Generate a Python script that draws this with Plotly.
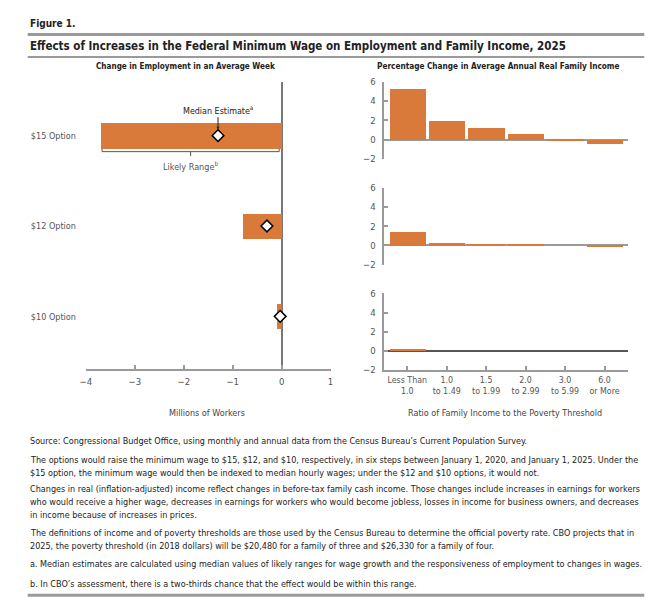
import plotly.graph_objects as go

# ---------------- data ----------------
options = ["$15 Option", "$12 Option", "$10 Option"]
range_low = [-3.7, -0.8, -0.1]      # millions of workers (likely range lower end)
range_high = [0.0, 0.0, 0.0]
median_est = [-1.3, -0.3, -0.03]

income_groups = ["Less Than<br>1.0", "1.0<br>to 1.49", "1.5<br>to 1.99",
                 "2.0<br>to 2.99", "3.0<br>to 5.99", "6.0<br>or More"]
income_15 = [5.3, 1.9, 1.2, 0.6, -0.1, -0.4]
income_12 = [1.4, 0.3, 0.2, 0.1, 0.0, -0.1]
income_10 = [0.2, 0.0, 0.0, 0.0, 0.0, 0.0]

x_ticks_left = [-4, -3, -2, -1, 0, 1]
y_ticks_right = [-2, 0, 2, 4, 6]

# ---------------- style ----------------
W, H = 667, 616
FONT = "Liberation Sans Narrow, DejaVu Sans Condensed, Arial Narrow, sans-serif"
ORANGE = "#D9793A"
GRAY = "#9a9a9a"
TXT = "#333333"

def px_x(p):
    return p / W

def px_y(p):
    return 1 - p / H

fig = go.Figure()

# left panel
ypos = [2, 1, 0]
fig.add_trace(go.Bar(
    y=ypos, x=[lo - hi for lo, hi in zip(range_low, range_high)], base=range_high,
    orientation="h", width=0.28, marker=dict(color=ORANGE, line=dict(width=0)),
    xaxis="x", yaxis="y", showlegend=False, hoverinfo="skip"))
fig.add_trace(go.Scatter(
    y=ypos, x=median_est, mode="markers",
    marker=dict(symbol="diamond", size=9, color="white", line=dict(color="black", width=1.5)),
    xaxis="x", yaxis="y", showlegend=False, hoverinfo="skip"))

# right panels
for i, vals in enumerate([income_15, income_12, income_10]):
    ax = str(i + 2)
    fig.add_trace(go.Bar(
        x=list(range(len(income_groups))), y=vals, width=0.92,
        marker=dict(color=ORANGE, line=dict(width=0)),
        xaxis="x" + ax, yaxis="y" + ax, showlegend=False, hoverinfo="skip"))

layout = dict(
    width=W, height=H, margin=dict(l=0, r=0, t=0, b=0),
    paper_bgcolor="white", plot_bgcolor="rgba(0,0,0,0)",
    font=dict(family=FONT, size=9, color=TXT),
    bargap=0,
)

layout["xaxis"] = dict(
    domain=[px_x(81), px_x(329)], range=[-4, 1],
    tickvals=x_ticks_left, ticks="inside", ticklen=4, tickcolor=GRAY, tickwidth=1.5,
    showline=True, linecolor=GRAY, linewidth=2, showgrid=False,
    zeroline=True, zerolinecolor="#777777", zerolinewidth=1.5,
    anchor="y", tickfont=dict(size=9.5, color="#555"), ticklabelstandoff=2,
)
layout["yaxis"] = dict(
    domain=[px_y(370), px_y(77)], range=[-0.587, 2.598],
    tickvals=ypos, ticktext=options, ticks="", showgrid=False, zeroline=False,
    showline=False, ticklabelstandoff=9, tickfont=dict(size=9, color="#555"),
    anchor="x",
)

doms = [(77.3, 155.7), (185, 263.4), (292.7, 370.7)]
for i, (t, b) in enumerate(doms):
    ax = str(i + 2)
    last = i == 2
    layout["xaxis" + ax] = dict(
        domain=[px_x(382.7), px_x(630.7)], range=[-0.6, 5.6],
        anchor="y" + ax, showgrid=False, zeroline=False,
        showline=last, linecolor=GRAY, linewidth=2,
        tickvals=list(range(len(income_groups))),
        ticktext=income_groups if last else None,
        showticklabels=last, ticks="inside" if last else "",
        ticklen=4, tickcolor=GRAY, tickwidth=1.5, tickangle=0,
        tickfont=dict(size=8.8, color="#555"),
    )
    layout["yaxis" + ax] = dict(
        domain=[px_y(b), px_y(t)], range=[-2, 6], anchor="x" + ax,
        tickvals=y_ticks_right, ticks="inside", ticklen=4, tickcolor=GRAY, tickwidth=1.5,
        showline=True, linecolor=GRAY, linewidth=2, showgrid=False,
        zeroline=True, zerolinecolor="#555555" if last else GRAY, zerolinewidth=1.5,
        tickfont=dict(size=9.5, color="#555"), ticklabelstandoff=4,
    )

fig.update_layout(**layout)

# ---------------- shapes ----------------
shapes = [
    dict(type="line", xref="paper", yref="paper", x0=px_x(22), x1=px_x(647),
         y0=px_y(29), y1=px_y(29), line=dict(color=GRAY, width=3)),
    dict(type="line", xref="paper", yref="paper", x0=px_x(22), x1=px_x(647),
         y0=px_y(52), y1=px_y(52), line=dict(color=GRAY, width=2)),
    dict(type="line", xref="paper", yref="paper", x0=px_x(22), x1=px_x(647),
         y0=px_y(600), y1=px_y(600), line=dict(color=GRAY, width=3)),
]
# likely range bracket under $15 bar
b_lo, b_hi = range_low[0] + 0.03, range_high[0] - 0.05
b_y = 1.823
mid = (b_lo + b_hi) / 2
bracket_col = "#555555"
shapes += [
    dict(type="line", xref="x", yref="y", x0=b_lo, x1=b_hi, y0=b_y, y1=b_y,
         line=dict(color=bracket_col, width=1)),
    dict(type="line", xref="x", yref="y", x0=b_lo, x1=b_lo, y0=b_y, y1=b_y + 0.03,
         line=dict(color=bracket_col, width=1)),
    dict(type="line", xref="x", yref="y", x0=b_hi, x1=b_hi, y0=b_y, y1=b_y + 0.03,
         line=dict(color=bracket_col, width=1)),
    dict(type="line", xref="x", yref="y", x0=mid, x1=mid, y0=b_y, y1=b_y - 0.05,
         line=dict(color=bracket_col, width=1)),
]
fig.update_layout(shapes=shapes)

# ---------------- annotations ----------------
ann = []
def txt(x, y, s, size=10, bold=False, xanchor="left", color=TXT):
    ann.append(dict(xref="paper", yref="paper", x=px_x(x), y=px_y(y), text=("<b>%s</b>" % s) if bold else s,
                    showarrow=False, xanchor=xanchor, yanchor="middle",
                    font=dict(size=size, color=color, family=FONT)))

txt(22, 18, "Figure 1.", size=10, bold=True, color="#222")
txt(22, 41, "Effects of Increases in the Federal Minimum Wage on Employment and Family Income, 2025",
    size=11.5, bold=True, color="#222")
txt(182, 61, "Change in Employment in an Average Week", size=8.1, bold=True, xanchor="center", color="#222")
txt(499, 61, "Percentage Change in Average Annual Real Family Income", size=8.2, bold=True,
    xanchor="center", color="#222")
txt(204, 414, "Millions of Workers", size=9, xanchor="center", color="#444")
txt(506, 414, "Ratio of Family Income to the Poverty Threshold", size=9, xanchor="center", color="#444")

notes = [
    (443, "Source: Congressional Budget Office, using monthly and annual data from the Census Bureau\u2019s Current Population Survey."),
    (462, "The options would raise the minimum wage to $15, $12, and $10, respectively, in six steps between January 1, 2020, and January 1, 2025. Under the"),
    (475, "$15 option, the minimum wage would then be indexed to median hourly wages; under the $12 and $10 options, it would not."),
    (492, "Changes in real (inflation-adjusted) income reflect changes in before-tax family cash income. Those changes include increases in earnings for workers"),
    (505, "who would receive a higher wage, decreases in earnings for workers who would become jobless, losses in income for business owners, and decreases"),
    (518, "in income because of increases in prices."),
    (537, "The definitions of income and of poverty thresholds are those used by the Census Bureau to determine the official poverty rate. CBO projects that in"),
    (550, "2025, the poverty threshold (in 2018 dollars) will be $20,480 for a family of three and $26,330 for a family of four."),
    (568, "a. Median estimates are calculated using median values of likely ranges for wage growth and the responsiveness of employment to changes in wages."),
    (589, "b. In CBO\u2019s assessment, there is a two-thirds chance that the effect would be within this range."),
]
for y, s in notes:
    txt(22, y, s, size=9, color="#222")

# median estimate label with arrow
ann.append(dict(xref="x", yref="y", x=median_est[0], y=ypos[0], text="Median Estimate<sup>a</sup>",
                showarrow=True, arrowhead=2, arrowsize=0.6, arrowwidth=1, arrowcolor="#222",
                ax=0, ay=-26, standoff=6, font=dict(size=8.9, color="#222", family=FONT)))
ann.append(dict(xref="x", yref="y", x=mid, y=b_y - 0.16, text="Likely Range<sup>b</sup>",
                showarrow=False, font=dict(size=9, color="#555", family=FONT)))

fig.update_layout(annotations=ann)

fig.write_html("out.html", config={"displayModeBar": False},
               post_script="document.body.style.margin='0';document.body.style.overflow='hidden';")
